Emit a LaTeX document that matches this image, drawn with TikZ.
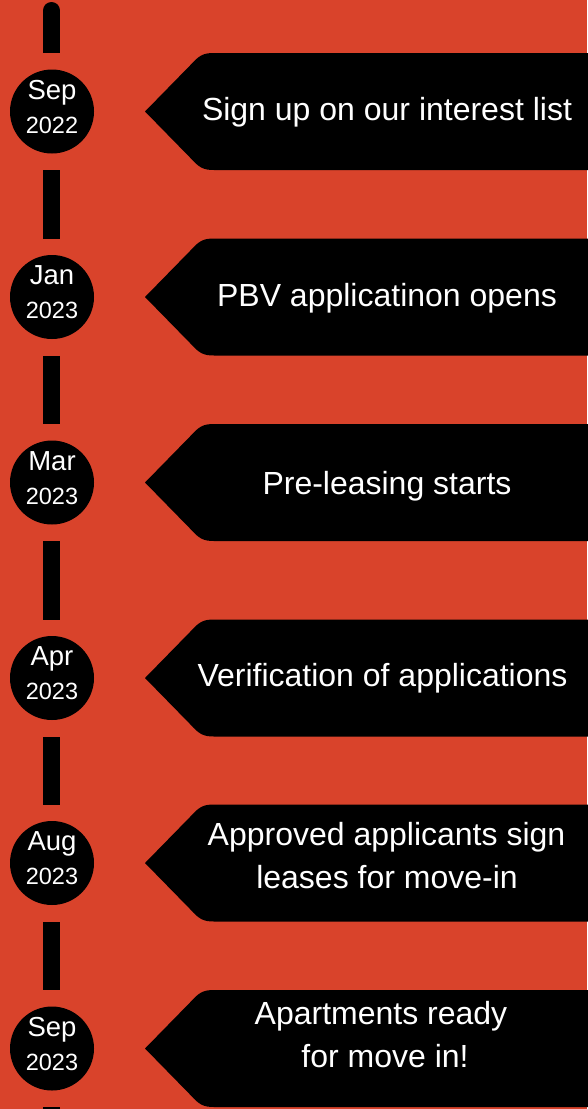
\documentclass[tikz,border=0pt]{standalone}
\usepackage{fontspec}
\setmainfont{Liberation Sans}
\definecolor{bg}{RGB}{217,67,43}
\begin{document}
\begin{tikzpicture}[x=1pt,y=-1pt,
  boxtext/.style={text=white,font=\fontsize{32}{44}\selectfont,anchor=base,inner sep=0pt},
  monthtext/.style={text=white,font=\fontsize{27.5}{30}\selectfont,anchor=base,inner sep=0pt},
  yeartext/.style={text=white,font=\fontsize{23.5}{26}\selectfont,anchor=base,inner sep=0pt},
  dot/.style={circle,fill=black,minimum size=84pt,inner sep=0pt},
  tagshape/.style={fill=black},
  seg/.style={fill=black}]
\fill[bg] (0,0) rectangle (587,1109);
\useasboundingbox (0,0) rectangle (587,1109);

% rounded top of the timeline
\draw[line width=17pt,line cap=round] (51.5,10.5) -- (51.5,40);
\coordinate (top0) at (51.5,53);
\fill[seg] (43,35) rectangle (60,53);

\foreach \cy/\mon/\yr [count=\i] in {111.5/Sep/2022, 297/Jan/2023, 482.5/Mar/2023, 678/Apr/2023, 863/Aug/2023, 1048.5/Sep/2023}{
  \begin{scope}[shift={(0,\cy)}]
    \fill[tagshape] (145,0) -- (190,-46) .. controls (199,-56) and (203,-58.5) .. (214,-58.5)
       -- (590,-58.5) -- (590,58.5) -- (214,58.5) .. controls (203,58.5) and (199,56) .. (190,46) -- cycle;
    \node[dot] (c\i) at (52,0) {};
    \node[monthtext] (m\i) at (52,-12.5) {\mon};
    \node[yeartext] (y\i) at (52,21.8) {\yr};
    \coordinate (top\i) at (51.5,-58.5);
    \coordinate (bot\i) at (51.5,58.5);
  \end{scope}
}

% dashes of the timeline between the tags
\foreach \a/\b in {1/2,2/3,3/4,4/5,5/6}{
  \fill[seg] ([xshift=-8.5pt]bot\a) rectangle ([xshift=8.5pt]top\b);
}
\coordinate (end) at (51.5,1115);
\fill[seg] ([xshift=-8.5pt]bot6) rectangle ([xshift=8.5pt]end);

% texts of the tags
\node[boxtext] (t1) at (387,120) {Sign up on our interest list};
\node[boxtext] (t2) at (387,306) {PBV applicatinon opens};
\node[boxtext] (t3) at (387,494) {Pre-leasing starts};
\node[boxtext] (t4) at (382.5,686.5) {Verification of applications};
\node[boxtext] (t5a) at (386.5,845) {Approved applicants sign};
\node[boxtext] (t5b) at (387,888.5) {leases for move-in};
\node[boxtext] (t6a) at (381,1024) {Apartments ready};
\node[boxtext] (t6b) at (385,1067.5) {for move in!};
\end{tikzpicture}
\end{document}
